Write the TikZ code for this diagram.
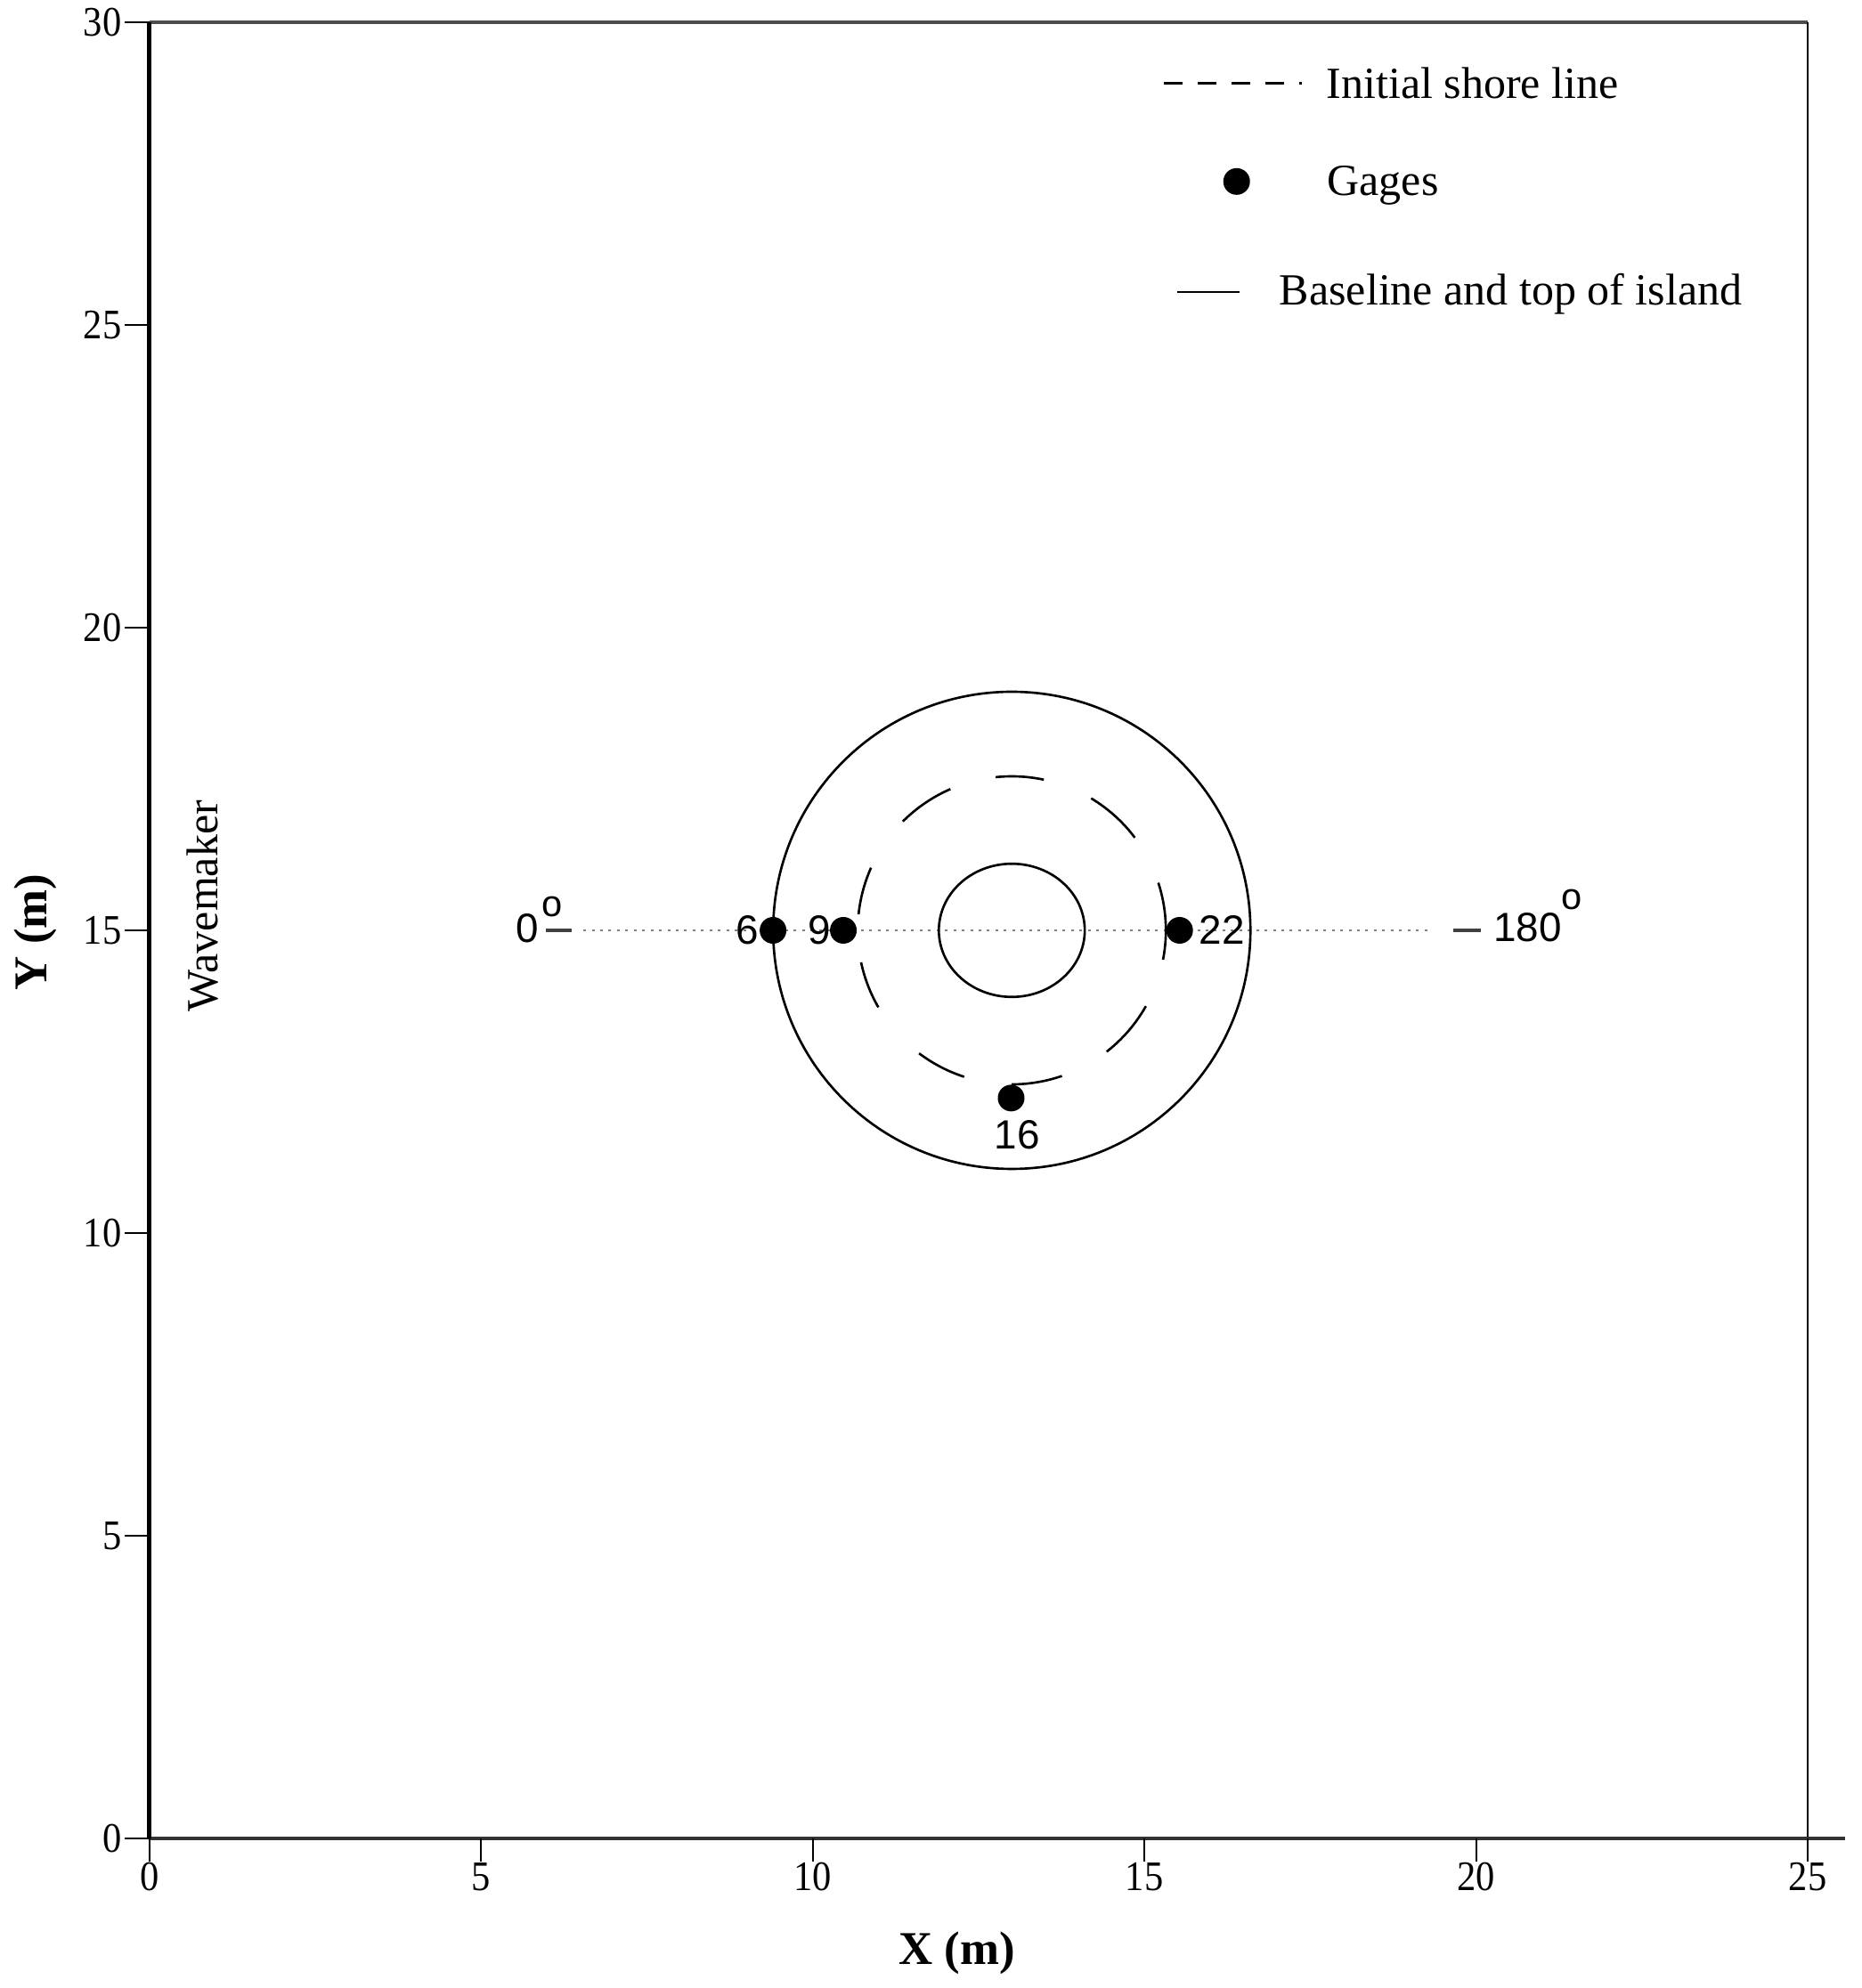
\documentclass[tikz,border=0pt]{standalone}
\usepackage{fontspec}
\usepackage{graphicx}
\setmainfont{Liberation Serif}
\newfontfamily\arialf{Liberation Sans}
\newcommand{\narrowtxt}[1]{\scalebox{0.9}[1]{#1}}
\begin{document}
\begin{tikzpicture}[x=26.8128pt, y=24.48pt,
  gage/.style={circle, fill=black, inner sep=0pt, minimum size=10.8pt},
  glab/.style={font=\arialf\fontsize{16.5}{16.5}\selectfont, inner sep=0pt},
  deg/.style={font=\arialf\fontsize{15}{15}\selectfont, inner sep=0pt, anchor=north},
  ticklab/.style={font=\fontsize{17}{17}\selectfont, inner sep=0pt},
  axlab/.style={font=\bfseries\fontsize{19}{19}\selectfont, inner sep=0pt},
  legtxt/.style={font=\fontsize{18}{18}\selectfont, inner sep=0pt, anchor=base west},
  tickline/.style={line width=0.75pt},
  island/.style={line width=0.95pt},
  shore/.style={line width=0.95pt},
  baseln/.style={line width=0.75pt, gray, dash pattern=on 1.1pt off 2.3pt},
  shortdash/.style={line width=1.1pt, black!75}
]
\useasboundingbox (-2.2556,-2.4706) rectangle (25.8190,30.3676);

% frame and axes
\coordinate (O) at (0,0);
\coordinate (TL) at (0,30);
\coordinate (TR) at (25,30);
\coordinate (BR) at (25,0);
\coordinate (XE) at (25.56,0);
\draw[line width=1.1pt, black!70] (TL) -- (TR);
\draw[line width=0.8pt] (TR) -- (BR);
\draw[line width=1.7pt, black!80] (O) -- (XE);
\draw[line width=1.8pt] (O) -- (TL);

% ticks and tick labels
\foreach \y in {0,5,...,30}{
  \draw[tickline] (0,\y) -- (-0.376,\y);
  \node[ticklab, anchor=east] (yl\y) at (-0.416,\y) {\narrowtxt{\y}};
}
\foreach \x in {0,5,...,25}{
  \draw[tickline] (\x,0) -- (\x,-0.38);
  \node[ticklab] (xl\x) at (\x,-0.632) {\narrowtxt{\x}};
}
\node[axlab] (xlab) at (12.17,-1.89) {X (m)};
\node[axlab, rotate=90] (ylab) at (-1.72,14.97) {Y (m)};
\node[font=\fontsize{18}{18}\selectfont, inner sep=0pt, rotate=90] (wm) at (0.806,15.4) {Wavemaker};

% baseline through island
\coordinate (bl0) at (6.54,15);
\coordinate (bl1) at (19.33,15);
\draw[baseln] (bl0) -- (bl1);
\coordinate (d0a) at (5.975,15);
\coordinate (d0b) at (6.364,15);
\coordinate (d1a) at (19.66,15);
\coordinate (d1b) at (20.07,15);
\draw[shortdash] (d0a) -- (d0b);
\draw[shortdash] (d1a) -- (d1b);
\node[glab] (l0) at (5.69,15.03) {0};
\node[deg] (l0d) at (6.07,15.57) {o};
\node[glab] (l180) at (20.78,15.05) {180};
\node[deg] (l180d) at (21.44,15.69) {o};

% island
\coordinate (ctr) at (13,15);
\draw[island] (ctr) circle [x radius=3.598, y radius=3.941];
\draw[island] (ctr) circle [x radius=1.1, y radius=1.1];
\foreach \a/\b in {78/96, 113.5/135, 156/174, 192/210, 233/252, 270/289, 308/330.5, -11/18, 37/59}{
  \draw[shore] (ctr) ++(\a:2.323 and 2.544) arc [start angle=\a, end angle=\b, x radius=2.323, y radius=2.544];
}

% gages
\node[gage] (g6) at (9.40,15) {};
\node[gage] (g9) at (10.46,15) {};
\node[gage] (g22) at (15.53,15) {};
\node[gage] (g16) at (12.99,12.23) {};
\node[glab] (t6) at (9.01,15) {6};
\node[glab] (t9) at (10.10,15) {9};
\node[glab] (t22) at (16.17,15) {22};
\node[glab] (t16) at (13.08,11.62) {16};

% legend
\coordinate (ls0) at (15.29,28.99);
\coordinate (ls1) at (17.38,28.99);
\draw[line width=0.9pt, dash pattern=on 7.6pt off 6.1pt] (ls0) -- (ls1);
\node[legtxt] (lt1) at (17.74,28.74) {Initial shore line};
\node[gage] (lg) at (16.39,27.37) {};
\node[legtxt] (lt2) at (17.75,27.14) {Gages};
\coordinate (lb0) at (15.49,25.54);
\coordinate (lb1) at (16.43,25.54);
\draw[line width=0.8pt] (lb0) -- (lb1);
\node[legtxt] (lt3) at (17.03,25.33) {Baseline and top of island};
\end{tikzpicture}
\end{document}
